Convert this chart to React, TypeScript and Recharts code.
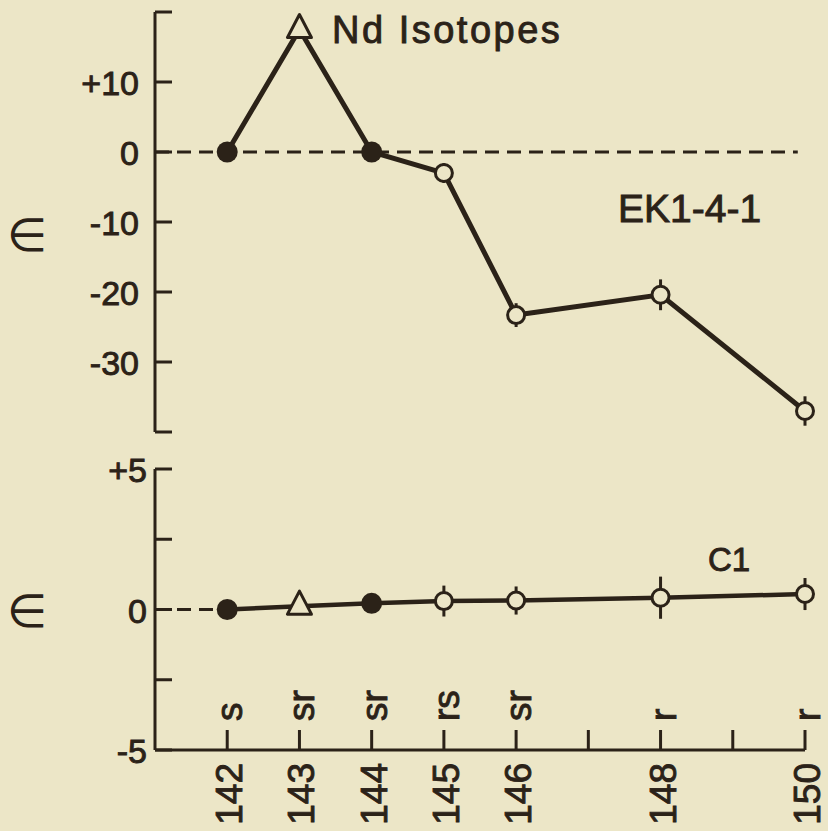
import React from 'react';
import { LineChart, Line, XAxis, YAxis, ReferenceLine, ErrorBar } from 'recharts';

const BG = '#ece6c7';
const INK = '#2b2218';

// Nd isotope masses measured
const masses = [142, 143, 144, 145, 146, 148, 150];
// marker kind for each mass: filled circle, open triangle, open circle
const markers = ['filled', 'triangle', 'filled', 'open', 'open', 'open', 'open'];

// EK1-4-1 epsilon values and 2-sigma errors
const ek1Values = [0, 17.5, 0, -3, -23.3, -20.4, -37];
const ek1Errors = [0, 0, 0, 1.4, 1.7, 2.2, 2.1];

// C1 epsilon values and errors
const c1Values = [0, 0.12, 0.22, 0.3, 0.32, 0.42, 0.55];
const c1Errors = [0, 0, 0, 0.55, 0.5, 0.75, 0.57];

// x-axis ticks, their labels and nucleosynthesis process labels
const massTicks = [142, 143, 144, 145, 146, 147, 148, 149, 150];
const massLabels = ['142', '143', '144', '145', '146', '', '148', '', '150'];
const processLabels = ['s', 'sr', 'sr', 'rs', 'sr', '', 'r', '', 'r'];

const topTicks = [20, 10, 0, -10, -20, -30, -40];
const topLabels = ['', '+10', '0', '-10', '-20', '-30', ''];
const bottomTicks = [5, 2.5, 0, -2.5, -5];
const bottomLabels = ['+5', '', '0', '', '-5'];

const topData = masses.map((m, i) => ({ mass: m, eps: ek1Values[i], err: ek1Errors[i], marker: markers[i] }));
const bottomData = masses.map((m, i) => ({ mass: m, eps: c1Values[i], err: c1Errors[i], marker: markers[i] }));

const FONT = '"Liberation Sans", Arial, Helvetica, sans-serif';
// a thin outline on the text makes it look as heavy as the printed original
const inkText = { fill: INK, stroke: INK, strokeWidth: 0.9, fontFamily: FONT };

function Marker(props: any) {
  const { cx, cy, payload, index } = props;
  if (cx == null || cy == null) return <g key={`m-${index}`} />;
  if (payload.marker === 'filled') {
    return <circle key={`m-${index}`} cx={cx} cy={cy} r={10.5} fill={INK} />;
  }
  if (payload.marker === 'triangle') {
    const pts = `${cx},${cy - 15} ${cx - 12},${cy + 8} ${cx + 12},${cy + 8}`;
    return <polygon key={`m-${index}`} points={pts} fill={BG} stroke={INK} strokeWidth={3} strokeLinejoin="round" />;
  }
  return <circle key={`m-${index}`} cx={cx} cy={cy} r={8.5} fill={BG} stroke={INK} strokeWidth={3} />;
}

function makeYTick(labels: string[], ticks: number[], gap: number) {
  return (props: any) => {
    const { x, y, payload } = props;
    const idx = ticks.indexOf(payload.value);
    const label = labels[idx];
    return (
      <g>
        <line x1={x} x2={x + 17} y1={y} y2={y} stroke={INK} strokeWidth={3} />
        {label ? (
          <text x={x - gap} y={y} dy={13} textAnchor="end" fontSize={34} {...inkText}>
            {label}
          </text>
        ) : null}
      </g>
    );
  };
}

function MassTick(props: any) {
  const { x, y, index } = props;
  const label = processLabels[index];
  const num = massLabels[index];
  return (
    <g>
      <line x1={x} x2={x} y1={y} y2={y - 20} stroke={INK} strokeWidth={3} />
      {num ? (
        <text transform={`translate(${x + 15},${y + 13}) rotate(-90)`} textAnchor="end" fontSize={37} {...inkText}>
          {num}
        </text>
      ) : null}
      {label ? (
        <text transform={`translate(${x + 15},${y - 29}) rotate(-90)`} textAnchor="start" fontSize={37} {...inkText}>
          {label}
        </text>
      ) : null}
    </g>
  );
}

export default function App() {
  return (
    <div style={{ position: 'absolute', left: 0, top: 0, width: 828, height: 831, background: BG, overflow: 'hidden' }}>
      {/* Upper panel: EK1-4-1 */}
      <div style={{ position: 'absolute', left: 0, top: 0 }}>
        <LineChart width={828} height={450} data={topData} margin={{ top: 12, right: 23, bottom: 18, left: 55 }}>
          <XAxis dataKey="mass" type="number" domain={[141, 150]} ticks={massTicks} hide />
          <YAxis
            type="number"
            domain={[-40, 20]}
            ticks={topTicks}
            width={100}
            tickSize={0}
            tickMargin={0}
            tickLine={false}
            axisLine={{ stroke: INK, strokeWidth: 3 }}
            tick={makeYTick(topLabels, topTicks, 16)}
            interval={0}
          />
          <ReferenceLine
            segment={[{ x: 141, y: 0 }, { x: 149.9, y: 0 }]}
            stroke={INK}
            strokeWidth={3}
            strokeDasharray="14 8"
          />
          <Line
            dataKey="eps"
            stroke={INK}
            strokeWidth={5}
            dot={(p: any) => <Marker {...p} key={`t-${p.index}`} />}
            activeDot={false}
            isAnimationActive={false}
          >
            <ErrorBar dataKey="err" direction="y" width={0} stroke={INK} strokeWidth={3} />
          </Line>
        </LineChart>
      </div>

      {/* Lower panel: C1 */}
      <div style={{ position: 'absolute', left: 0, top: 440 }}>
        <LineChart width={828} height={391} data={bottomData} margin={{ top: 29, right: 23, bottom: 1, left: 55 }}>
          <XAxis
            dataKey="mass"
            type="number"
            domain={[141, 150]}
            ticks={massTicks}
            interval={0}
            height={80}
            tickSize={0}
            tickMargin={0}
            tickLine={false}
            axisLine={{ stroke: INK, strokeWidth: 3 }}
            tick={<MassTick />}
          />
          <YAxis
            type="number"
            domain={[-5, 5]}
            ticks={bottomTicks}
            width={100}
            tickSize={0}
            tickMargin={0}
            tickLine={false}
            axisLine={{ stroke: INK, strokeWidth: 3 }}
            tick={makeYTick(bottomLabels, bottomTicks, 8)}
            interval={0}
          />
          <ReferenceLine
            segment={[{ x: 141, y: 0 }, { x: 142, y: 0 }]}
            stroke={INK}
            strokeWidth={3}
            strokeDasharray="14 8"
          />
          <Line
            dataKey="eps"
            stroke={INK}
            strokeWidth={4.5}
            dot={(p: any) => <Marker {...p} key={`b-${p.index}`} />}
            activeDot={false}
            isAnimationActive={false}
          >
            <ErrorBar dataKey="err" direction="y" width={0} stroke={INK} strokeWidth={3} />
          </Line>
        </LineChart>
      </div>

      {/* Annotations */}
      <svg width={828} height={831} style={{ position: 'absolute', left: 0, top: 0, pointerEvents: 'none' }}>
        <text x={332} y={43} fontSize={38} letterSpacing={2.5} {...inkText}>Nd Isotopes</text>
        <text x={618} y={222} fontSize={39} {...inkText}>EK1-4-1</text>
        <text x={708} y={571} fontSize={33} {...inkText}>C1</text>
        <text x={27} y={251} fontSize={46} textAnchor="middle" fill={INK} fontFamily='"DejaVu Sans", sans-serif'>∈</text>
        <text x={27} y={627} fontSize={46} textAnchor="middle" fill={INK} fontFamily='"DejaVu Sans", sans-serif'>∈</text>
      </svg>
    </div>
  );
}
